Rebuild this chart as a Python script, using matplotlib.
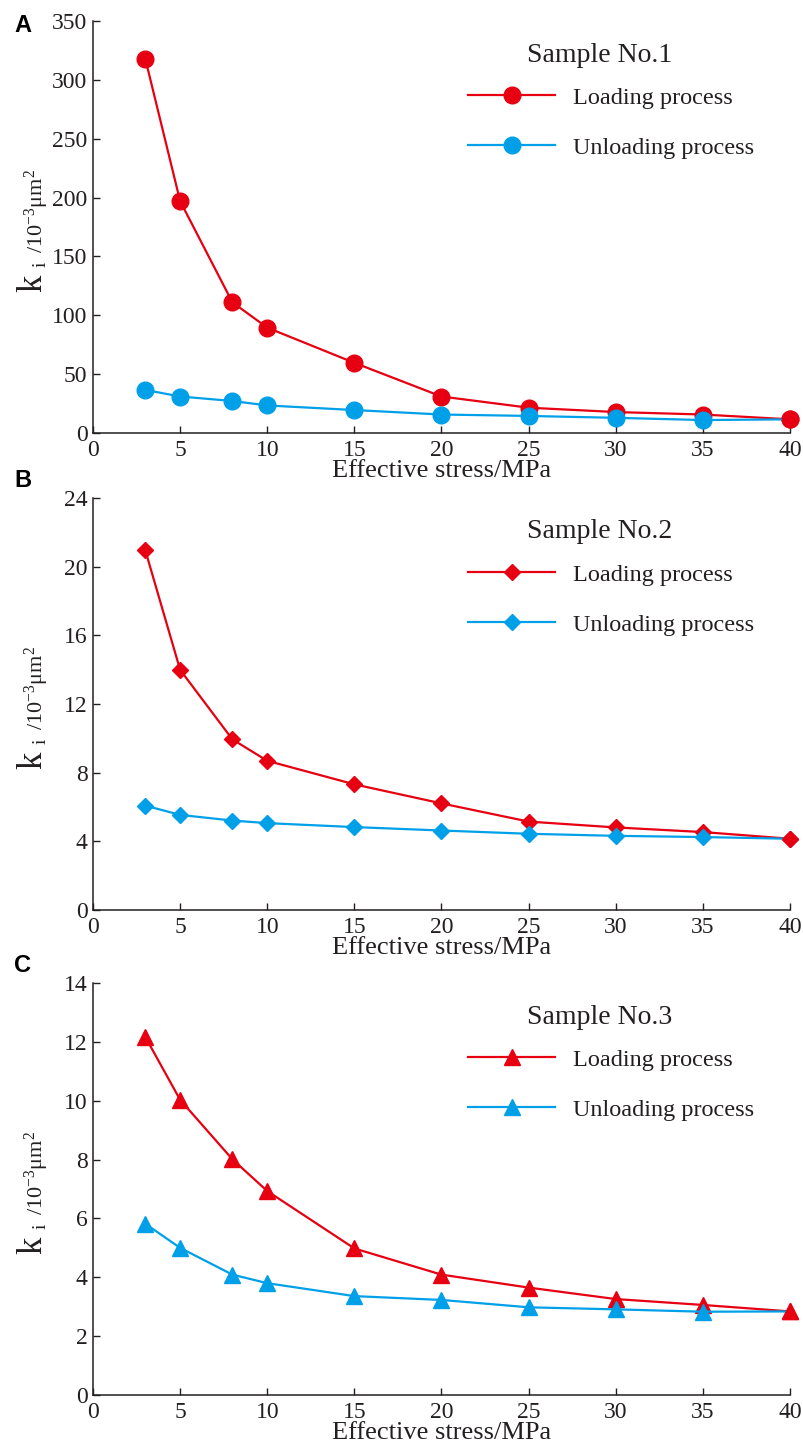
import matplotlib
matplotlib.use("Agg")
from matplotlib import pyplot as plt
from matplotlib.font_manager import FontProperties

# effective stress (MPa)
stress = [3, 5, 8, 10, 15, 20, 25, 30, 35, 40]

# permeability k_i (10^-3 um^2)
loading_1 = [318, 197, 111, 89.5, 59.6, 31, 21.5, 17.8, 15.7, 11.6]
unloading_1 = [36.6, 31, 27.2, 23.4, 19.5, 15.7, 14.5, 12.9, 11, 11.6]

loading_2 = [20.96, 13.99, 9.94, 8.69, 7.32, 6.21, 5.15, 4.81, 4.54, 4.15]
unloading_2 = [6.08, 5.54, 5.21, 5.06, 4.83, 4.63, 4.44, 4.32, 4.25, 4.15]

loading_3 = [12.17, 10.03, 8.01, 6.93, 4.98, 4.09, 3.65, 3.26, 3.06, 2.84]
unloading_3 = [5.82, 5.0, 4.09, 3.8, 3.36, 3.23, 2.98, 2.91, 2.83, 2.84]

panel_letters = ["A", "B", "C"]
sample_names = ["Sample No.1", "Sample No.2", "Sample No.3"]
y_limits = [350, 24, 14]
y_steps = [50, 4, 2]
x_ticks = [0, 5, 10, 15, 20, 25, 30, 35, 40]

RED = "#E60012"
BLUE = "#00A0E9"
INK = "#231F20"
SERIF = "Liberation Serif"


def main():
    plt.rcParams["font.family"] = SERIF
    plt.rcParams["mathtext.fontset"] = "custom"
    plt.rcParams["mathtext.rm"] = SERIF
    plt.rcParams["mathtext.it"] = SERIF + ":italic"

    W, H = 804, 1446
    fig = plt.figure(figsize=(W / 100, H / 100), dpi=100)

    loads = [loading_1, loading_2, loading_3]
    unloads = [unloading_1, unloading_2, unloading_3]
    markers = [("o", 12), ("D", 8.6), ("^", 11.5)]
    # panel boxes in pixels: (top, bottom)
    boxes = [(21, 433), (498, 910), (983, 1395)]
    letter_y = [25, 481, 966]
    left, right = 93, 790

    for i in range(3):
        top, bottom = boxes[i]
        ax = fig.add_axes([left / W, 1 - bottom / H, (right - left) / W, (bottom - top) / H])
        mk, ms = markers[i]

        l1, = ax.plot(stress, loads[i], color=RED, lw=1.6, marker=mk, ms=ms,
                      clip_on=False, zorder=3, label="Loading process")
        l2, = ax.plot(stress, unloads[i], color=BLUE, lw=1.6, marker=mk, ms=ms,
                      markevery=slice(0, len(stress) - 1),
                      clip_on=False, zorder=4, label="Unloading process")
        # last loading point sits on top of the unloading curve
        ax.plot(stress[-1:], loads[i][-1:], color=RED, marker=mk, ms=ms,
                ls="none", clip_on=False, zorder=5)

        ax.set_xlim(0, 40)
        ax.set_ylim(0, y_limits[i])
        ax.set_xticks(x_ticks)
        ax.set_yticks(range(0, y_limits[i] + 1, y_steps[i]))
        for side in ["top", "right"]:
            ax.spines[side].set_visible(False)
        for side in ["left", "bottom"]:
            ax.spines[side].set_linewidth(1.1)
            ax.spines[side].set_color(INK)
        ax.tick_params(direction="in", length=5, width=1.0, labelsize=17,
                       color=INK, labelcolor=INK)
        ax.tick_params(axis="x", pad=5)
        ax.tick_params(axis="y", pad=4)

        ax.set_xlabel("Effective stress/MPa", fontsize=19, color=INK)
        ax.xaxis.set_label_coords(0.5, -0.065)

        ax.text(0.727, 378 / 412, sample_names[i], transform=ax.transAxes,
                ha="center", va="center", fontsize=20, color=INK)
        ax.legend(handles=[l1, l2], loc="upper left", bbox_to_anchor=(0.538, 0.84),
                  frameon=False, prop=FontProperties(family=SERIF, size=17.5),
                  handlelength=3.6, handletextpad=0.72, labelspacing=1.15,
                  borderpad=0, borderaxespad=0, numpoints=1, labelcolor=INK)

        # y label: big k, small subscript i, then the unit
        fig.text(41 / W, 1 - (bottom - 141) / H, "k", fontsize=25,
                 rotation=90, rotation_mode="anchor", ha="left", va="baseline", color=INK)
        fig.text(46 / W, 1 - (bottom - 166) / H, "i", fontsize=14,
                 rotation=90, rotation_mode="anchor", ha="left", va="baseline", color=INK)
        fig.text(43 / W, 1 - (bottom - 180) / H, r"/10$^{-3}$μm$^{2}$", fontsize=16,
                 rotation=90, rotation_mode="anchor", ha="left", va="baseline", color=INK)

        fig.text(23 / W, 1 - letter_y[i] / H, panel_letters[i], fontsize=17,
                 fontweight="bold", family="Liberation Sans", ha="center", va="center")

    fig.savefig("out.png", dpi=100)


if __name__ == "__main__":
    main()
